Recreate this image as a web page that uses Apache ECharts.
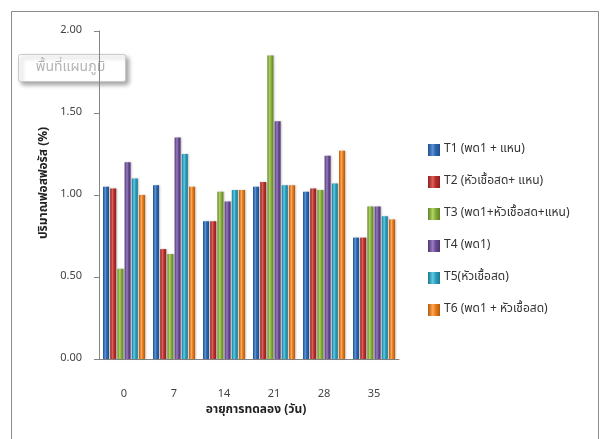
<!DOCTYPE html>
<html>
<head>
<meta charset="utf-8">
<script src="https://cdn.jsdelivr.net/npm/echarts@6/dist/echarts.min.js"></script>
<style>
  html, body { margin: 0; padding: 0; background: #ffffff; }
  #chart { width: 608px; height: 439px; }
</style>
</head>
<body>
<div id="chart"></div>
<script>
// Sampling days of the trial
var days = ['0', '7', '14', '21', '28', '35'];

// Treatment names
var seriesNames = [
  'T1 (พด1 + แหน)',
  'T2 (หัวเชื้อสด+ แหน)',
  'T3 (พด1+หัวเชื้อสด+แหน)',
  'T4 (พด1)',
  'T5(หัวเชื้อสด)',
  'T6 (พด1 + หัวเชื้อสด)'
];

// Measured values (%) per treatment, one per sampling day
var t1 = [1.05, 1.06, 0.84, 1.05, 1.02, 0.74];
var t2 = [1.04, 0.67, 0.84, 1.08, 1.04, 0.74];
var t3 = [0.55, 0.64, 1.02, 1.85, 1.03, 0.93];
var t4 = [1.20, 1.35, 0.96, 1.45, 1.24, 0.93];
var t5 = [1.10, 1.25, 1.03, 1.06, 1.07, 0.87];
var t6 = [1.00, 1.05, 1.03, 1.06, 1.27, 0.85];

// Value axis ticks
var yTicks = [0, 0.5, 1.0, 1.5, 2.0];

var seriesValues = [t1, t2, t3, t4, t5, t6];

// Base colours with darker edge / lighter centre for a cylinder look
var palette = [
  { edge: '#1f4f8c', mid: '#5b93d6', base: '#2e68b0' },
  { edge: '#8c1f1d', mid: '#e0605a', base: '#b8302d' },
  { edge: '#5f8124', mid: '#b3d66a', base: '#89ad3b' },
  { edge: '#4d356f', mid: '#9b7ec4', base: '#6e4f98' },
  { edge: '#1a7891', mid: '#5fcbe3', base: '#2fa3c2' },
  { edge: '#b3590c', mid: '#ffa957', base: '#ee7f1c' }
];

var thaiFont = "Tahoma, 'Noto Sans Thai', 'Loma', 'Garuda', 'DejaVu Sans', sans-serif";

function cylinder(c) {
  return new echarts.graphic.LinearGradient(0, 0, 1, 0, [
    { offset: 0, color: c.edge },
    { offset: 0.4, color: c.mid },
    { offset: 0.6, color: c.base },
    { offset: 1, color: c.edge }
  ]);
}

var series = seriesValues.map(function (vals, i) {
  return {
    name: seriesNames[i],
    type: 'bar',
    data: vals,
    barWidth: 6,
    barGap: '20%',
    barCategoryGap: '16%',
    itemStyle: {
      color: cylinder(palette[i]),
      shadowColor: 'rgba(0,0,0,0.25)',
      shadowBlur: 2,
      shadowOffsetX: 1
    }
  };
});

var chart = echarts.init(document.getElementById('chart'), null, { renderer: 'canvas' });

chart.setOption({
  backgroundColor: '#ffffff',
  animation: false,
  color: palette.map(function (c) { return c.base; }),
  grid: { left: 99, top: 31, width: 300, height: 328, containLabel: false },
  legend: {
    orient: 'vertical',
    left: 423,
    top: 139,
    itemWidth: 12,
    itemHeight: 12,
    itemGap: 20,
    icon: 'rect',
    textStyle: { fontFamily: thaiFont, fontSize: 12, color: '#333333', padding: [0, 0, 0, -1] },
    data: seriesNames
  },
  xAxis: {
    type: 'category',
    data: days,
    axisLine: { show: true, lineStyle: { color: '#868686', width: 1 } },
    axisTick: { show: false },
    axisLabel: { color: '#444444', fontSize: 11, fontFamily: thaiFont, margin: 30 },
    splitLine: { show: false }
  },
  yAxis: {
    type: 'value',
    min: yTicks[0],
    max: yTicks[yTicks.length - 1],
    interval: 0.5,
    axisLine: { show: true, lineStyle: { color: '#868686', width: 1 } },
    axisTick: { show: true, inside: false, length: 5, lineStyle: { color: '#868686' } },
    axisLabel: {
      color: '#444444',
      fontSize: 11,
      fontFamily: thaiFont,
      margin: 17,
      formatter: function (v) { return v.toFixed(2); }
    },
    splitLine: { show: false }
  },
  series: series,
  graphic: [
    // Outer chart frame
    {
      type: 'rect',
      shape: { x: 11.5, y: 11.5, width: 587, height: 440 },
      style: { fill: null, stroke: '#8c8c8c', lineWidth: 1 },
      z: -10
    },
    // Y axis title
    {
      type: 'text',
      x: 45,
      y: 183,
      rotation: Math.PI / 2,
      style: {
        text: 'ปริมาณฟอสฟอรัส (%)',
        fontFamily: thaiFont,
        fontSize: 12,
        fontWeight: 'bold',
        fill: '#222222',
        align: 'center',
        verticalAlign: 'middle'
      }
    },
    // X axis title
    {
      type: 'text',
      x: 256,
      y: 411,
      style: {
        text: 'อายุการทดลอง (วัน)',
        fontFamily: thaiFont,
        fontSize: 12,
        fontWeight: 'bold',
        fill: '#222222',
        align: 'center',
        verticalAlign: 'middle'
      }
    },
    // Chart-area hover tip
    {
      type: 'group',
      left: 18,
      top: 54,
      z: 100,
      children: [
        {
          type: 'rect',
          shape: { x: 0, y: 0, width: 107, height: 27, r: 2 },
          style: {
            fill: '#ffffff',
            stroke: '#c8c8c8',
            lineWidth: 1,
            shadowColor: 'rgba(0,0,0,0.35)',
            shadowBlur: 4,
            shadowOffsetX: 3,
            shadowOffsetY: 3
          }
        },
        {
          type: 'text',
          x: 52,
          y: 14,
          style: {
            text: 'พื้นที่แผนภูมิ',
            fontFamily: thaiFont,
            fontSize: 14,
            fill: '#b4b4b4',
            align: 'center',
            verticalAlign: 'middle'
          }
        }
      ]
    }
  ]
});
</script>
</body>
</html>
